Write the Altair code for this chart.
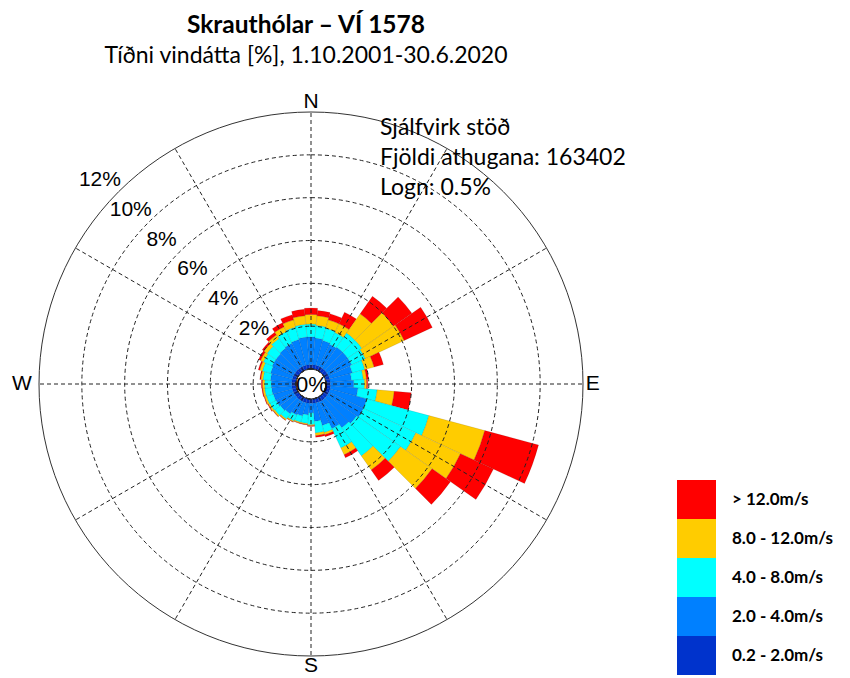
import altair as alt
import pandas as pd
import math

# ---------------- data ----------------
directions = list(range(0, 360, 10))
classes = ["0.2 - 2.0m/s", "2.0 - 4.0m/s", "4.0 - 8.0m/s", "8.0 - 12.0m/s", "> 12.0m/s"]
colors = ["#0033CC", "#0080FF", "#00FFFF", "#FFCC00", "#FF0000"]

# frequency [%] per direction (0,10,...,350) for each speed class
s_0_2 = [0.20, 0.20, 0.20, 0.20, 0.20, 0.20, 0.20, 0.20, 0.20, 0.20, 0.22, 0.22,
         0.22, 0.22, 0.22, 0.22, 0.20, 0.20, 0.20, 0.20, 0.20, 0.20, 0.20, 0.20,
         0.20, 0.20, 0.20, 0.20, 0.20, 0.20, 0.20, 0.20, 0.20, 0.20, 0.20, 0.20]
s_2_4 = [1.30, 1.25, 1.20, 1.15, 1.20, 1.20, 1.20, 1.10, 1.00, 1.10, 1.28, 1.78,
         1.78, 1.68, 1.58, 1.38, 1.10, 0.85, 0.45, 0.55, 0.65, 0.70, 0.80, 0.85,
         0.90, 0.92, 0.95, 0.96, 1.00, 1.05, 1.10, 1.10, 1.15, 1.20, 1.25, 1.30]
s_4_8 = [0.60, 0.60, 0.60, 0.60, 0.80, 0.80, 0.70, 0.60, 0.55, 0.50, 0.90, 3.00,
         2.70, 2.50, 1.60, 1.00, 0.35, 0.55, 0.55, 0.40, 0.30, 0.30, 0.30, 0.33,
         0.32, 0.33, 0.32, 0.31, 0.35, 0.40, 0.45, 0.50, 0.55, 0.60, 0.60, 0.60]
s_8_12 = [0.45, 0.45, 0.40, 0.45, 1.10, 1.80, 2.00, 0.45, 0.15, 0.10, 0.80, 2.70,
          2.30, 1.80, 0.80, 0.35, 0.10, 0.12, 0.05, 0.05, 0.05, 0.05, 0.06, 0.07,
          0.08, 0.09, 0.09, 0.10, 0.10, 0.13, 0.15, 0.18, 0.20, 0.25, 0.35, 0.40]
s_12 = [0.30, 0.25, 0.30, 0.60, 1.00, 1.05, 1.45, 0.45, 0.10, 0.05, 0.80, 2.60,
        1.70, 1.05, 0.60, 0.15, 0.10, 0.08, 0.03, 0.02, 0.02, 0.02, 0.02, 0.02,
        0.03, 0.03, 0.04, 0.05, 0.05, 0.07, 0.10, 0.10, 0.15, 0.20, 0.25, 0.30]
series = [s_0_2, s_2_4, s_4_8, s_8_12, s_12]

ring_values = [2, 4, 6, 8, 10]
outer_value = [12]
ring_labels = ["2%", "4%", "6%", "8%", "10%", "12%"]
spoke_angles = list(range(0, 360, 30))
compass = ["N", "E", "S", "W"]
compass_angles = [0, 90, 180, 270]
compass_radius = [12.45, 12.45, 12.45, 12.8]

# ---------------- layout constants ----------------
W, H = 834, 668
CX, CY = 303, 376          # centre of the rose inside the view
HOLE, ROUT = 15, 272       # pixel radius of 0% and 12%
FONT_TXT = "Lato"
FONT_AX = "Liberation Sans"

rows = []
for i, d in enumerate(directions):
    cum = 0.0
    for k, cls in enumerate(classes):
        v = series[k][i]
        rows.append(dict(dir=d, t0=d - 5, t1=d + 5, r0=cum, r1=cum + v, cls=cls))
        cum += v
bars = pd.DataFrame(rows)

theta_scale = alt.Scale(type="linear", domain=[0, 360], range=[0, 2 * math.pi])
rad_scale = alt.Scale(type="linear", domain=[0, 12], range=[HOLE, ROUT])
legend_order = classes[::-1]
color_scale = alt.Scale(domain=legend_order, range=colors[::-1])

base_xy = dict(x=alt.value(CX), y=alt.value(CY))

bar_layer = alt.Chart(bars).mark_arc(stroke="#000000", strokeOpacity=0.18, strokeWidth=0.6).encode(
    theta=alt.Theta("t0:Q", scale=theta_scale),
    theta2="t1:Q",
    radius=alt.Radius("r1:Q", scale=rad_scale),
    radius2="r0:Q",
    color=alt.Color("cls:N", scale=color_scale, legend=alt.Legend(
        orient="none", legendX=669, legendY=472, title=None,
        symbolType="square", symbolSize=1521, symbolStrokeWidth=0, symbolOpacity=1,
        labelFont=FONT_TXT, labelFontSize=17, labelFontWeight="bold", labelColor="#000000",
        labelOffset=16, rowPadding=0, padding=0, labelLimit=200)),
    **base_xy,
)

rings_df = pd.DataFrame({"r": ring_values, "a0": 0, "a1": 360})
ring_layer = alt.Chart(rings_df).mark_arc(fillOpacity=0, stroke="#222222", strokeWidth=1,
                                          strokeDash=[4, 3]).encode(
    theta=alt.Theta("a0:Q", scale=theta_scale), theta2="a1:Q",
    radius=alt.Radius("r:Q", scale=rad_scale), **base_xy)

outer_df = pd.DataFrame({"r": outer_value, "a0": 0, "a1": 360})
outer_layer = alt.Chart(outer_df).mark_arc(fillOpacity=0, stroke="#333333", strokeWidth=1).encode(
    theta=alt.Theta("a0:Q", scale=theta_scale), theta2="a1:Q",
    radius=alt.Radius("r:Q", scale=rad_scale), **base_xy)

# spokes: cartesian x/y scales in pixel units, centred at (CX, CY)
xs = alt.Scale(domain=[-CX, W - CX], range=[0, W])
ys = alt.Scale(domain=[-(H - CY), CY], range=[H, 0])
spokes_df = pd.DataFrame({"ang": spoke_angles})
spoke_layer = alt.Chart(spokes_df).transform_calculate(
    xa=f"{HOLE}*sin(datum.ang*PI/180)", ya=f"{HOLE}*cos(datum.ang*PI/180)",
    xb=f"{ROUT}*sin(datum.ang*PI/180)", yb=f"{ROUT}*cos(datum.ang*PI/180)",
).mark_rule(color="#222222", strokeWidth=1, strokeDash=[4, 3]).encode(
    x=alt.X("xa:Q", scale=xs, axis=None), y=alt.Y("ya:Q", scale=ys, axis=None),
    x2="xb:Q", y2="yb:Q")

rl_df = pd.DataFrame({"lab": ring_labels, "v": [2, 4, 6, 8, 10, 12], "ang": 314})
rl_df["rv"] = rl_df["v"] + 1.0
ring_label_layer = alt.Chart(rl_df).mark_text(font=FONT_AX, fontSize=21, color="#000000",
                                              align="center", baseline="middle").encode(
    theta=alt.Theta("ang:Q", scale=theta_scale),
    radius=alt.Radius("rv:Q", scale=rad_scale), text="lab:N", **base_xy)

cp_df = pd.DataFrame({"lab": compass, "ang": compass_angles, "rv": compass_radius})
compass_layer = alt.Chart(cp_df).mark_text(font=FONT_AX, fontSize=21, color="#000000",
                                           align="center", baseline="middle").encode(
    theta=alt.Theta("ang:Q", scale=theta_scale),
    radius=alt.Radius("rv:Q", scale=rad_scale), text="lab:N", **base_xy)

def label(txt, x, y, size, weight="normal", align="center", font=FONT_TXT, baseline="middle"):
    return alt.Chart(pd.DataFrame({"t": [txt]})).mark_text(
        font=font, fontSize=size, fontWeight=weight, align=align, baseline=baseline,
        color="#000000").encode(text="t:N", x=alt.value(x), y=alt.value(y))

texts = [
    label("0%", CX + 1, CY + 1, 22, font=FONT_AX),
    label("Skrauthólar – VÍ 1578", 298, 25, 24.5, weight="bold", baseline="alphabetic"),
    label("Tíðni vindátta [%], 1.10.2001-30.6.2020", 298, 48, 23),
    label("Sjálfvirk stöð", 372, 120, 23, align="left"),
    label("Fjöldi athugana: 163402", 372, 150, 23, align="left"),
    label("Logn: 0.5%", 372, 180, 23, align="left"),
]

chart = alt.layer(
    bar_layer, ring_layer, outer_layer, spoke_layer, ring_label_layer, compass_layer, *texts
).properties(width=W, height=H, padding=0, autosize="none", background="white"
).configure_view(strokeWidth=0)

chart.save("out.html", embed_options={"renderer": "svg", "actions": False})
